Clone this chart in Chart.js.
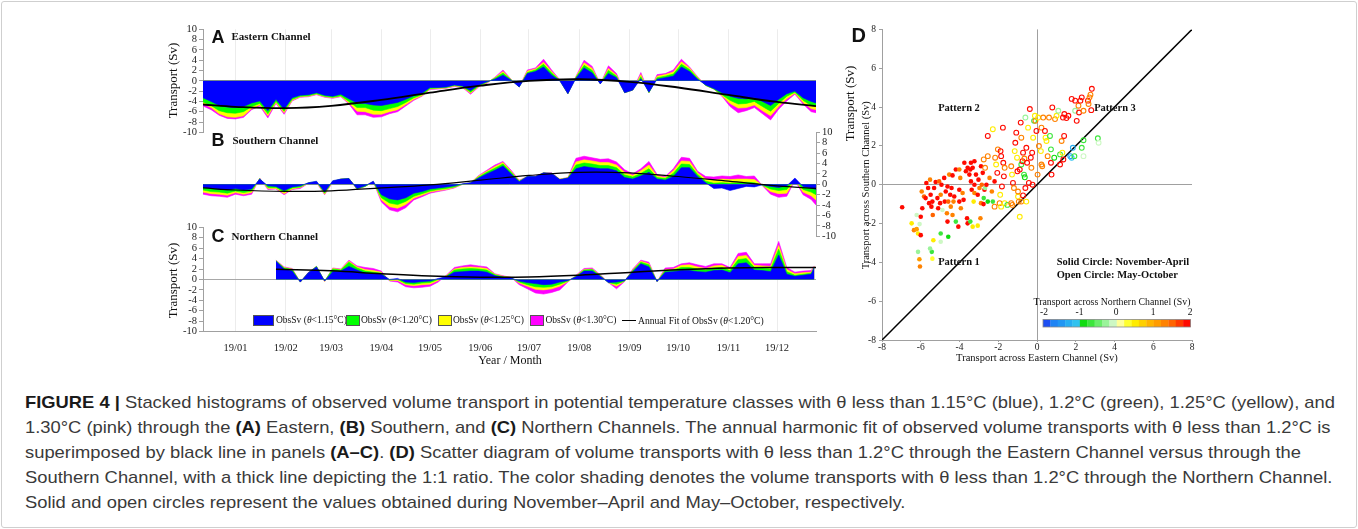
<!DOCTYPE html>
<html><head><meta charset="utf-8">
<script src="https://cdn.jsdelivr.net/npm/chart.js@4.4.0/dist/chart.umd.min.js"></script>
<style>
html,body{margin:0;padding:0;background:#fff;}
body{width:1358px;height:529px;position:relative;overflow:hidden;font-family:"Liberation Serif","DejaVu Serif",serif;color:#111;}
#frame{position:absolute;left:1px;top:1px;width:1354px;height:525px;border:1px solid #cfcfcf;border-radius:3px;}
canvas{position:absolute;}
.t{position:absolute;white-space:nowrap;line-height:1;}
.cap{position:absolute;left:25px;white-space:nowrap;font-family:"Liberation Sans","Arial",sans-serif;font-size:17px;color:#3a3a3a;line-height:1;transform-origin:0 50%;}
.cap b{color:#1a1a1a;}
.lg{position:absolute;top:314.5px;height:11px;border:1px solid #555;box-sizing:border-box;}
</style></head>
<body>
<div id="frame"></div>
<canvas id="cA" width="860" height="145" style="left:0;top:0"></canvas>
<canvas id="cB" width="860" height="130" style="left:0;top:120px"></canvas>
<canvas id="cC" width="860" height="160" style="left:0;top:215px"></canvas>
<canvas id="cD" width="380" height="372" style="left:840px;top:0"></canvas>
<div id="txt"></div>
<script>
// ---------- DATA ----------
const monthDays   = [0,31,59,90,120,151,181,212,243,273,304,334];
const monthLabels = ['19/01','19/02','19/03','19/04','19/05','19/06','19/07','19/08','19/09','19/10','19/11','19/12'];
const yTicks = [-10,-8,-6,-4,-2,0,2,4,6,8,10];

// day of 2019 (0 = 1 Jan)
const daysAB = [-20,-15,-10,-5,0,5,10,15,20,25,30,35,40,45,50,55,60,65,70,75,80,85,90,95,100,105,110,115,120,125,130,135,140,145,150,155,160,165,170,175,180,185,190,195,200,205,210,215,220,225,230,235,240,245,250,255,260,265,270,275,280,285,290,295,300,305,310,315,320,325,330,335,340,345,350,355,358];
const daysC  = [25,30,35,40,45,50,55,60,65,70,75,80,85,90,95,100,105,110,115,120,125,130,135,140,145,150,155,160,165,170,175,180,185,190,195,200,205,210,215,220,225,230,235,240,245,250,255,260,265,270,275,280,285,290,295,300,305,310,315,320,325,330,335,340,345,350,355,357];

// Eastern Channel, ObsSv (Sv) for theta < 1.15, 1.20, 1.25, 1.30 degC
const eastT115 = [-3.3,-4.0,-4.8,-5.1,-5.2,-5.0,-4.3,-3.9,-5.8,-3.6, -5.5,-3.3,-2.8,-2.7,-2.3,-2.8,-3.0,-2.6,-3.5,-4.3, -4.4,-4.7,-4.8,-4.5,-4.2,-3.6,-2.9,-2.4,-1.3,-1.3, -1.2,-0.8,-1.0,-1.9,-0.8,-0.2,0.3,1.1,0.1,-1.2, 1.4,1.8,2.7,1.1,0.0,-2.5,0.5,2.5,1.5,-0.6, 1.4,0.6,-2.3,-1.8,0.4,-2.2,0.3,0.6,0.9,2.7, 1.8,0.3,-0.8,-1.5,-2.3,-3.0,-3.4,-3.5,-3.3,-4.0, -4.8,-3.6,-2.5,-2.0,-3.3,-4.0,-4.3];
const eastT120 = [-4.1,-4.8,-5.8,-6.2,-6.3,-6.0,-5.0,-4.4,-6.4,-4.0, -5.9,-3.6,-3.0,-2.9,-2.5,-3.0,-3.2,-2.9,-4.0,-5.2, -5.2,-5.7,-5.8,-5.4,-5.0,-4.2,-3.3,-2.7,-1.5,-1.4, -1.3,-0.9,-1.1,-2.2,-1.0,-0.3,0.5,1.5,0.2,-1.2, 1.6,2.1,3.2,1.5,0.1,-2.5,0.7,3.0,2.0,-0.6, 2.0,0.9,-2.3,-1.8,0.8,-2.3,0.6,0.9,1.3,3.2, 2.2,0.5,-0.9,-1.6,-2.7,-3.8,-4.5,-4.4,-4.0,-5.0, -5.9,-4.4,-3.0,-2.2,-3.8,-4.8,-5.0];
const eastT125 = [-4.4,-5.2,-6.4,-7.0,-7.1,-6.8,-5.4,-4.7,-6.8,-4.2, -6.2,-3.8,-3.1,-3.0,-2.6,-3.1,-3.3,-3.0,-4.3,-5.9, -6.0,-6.5,-6.5,-6.0,-5.6,-4.6,-3.6,-2.9,-1.6,-1.5, -1.4,-1.0,-1.2,-2.4,-1.1,-0.4,0.6,1.8,0.25,-1.2, 1.9,2.3,3.6,1.8,0.1,-2.5,0.8,3.5,2.4,-0.6, 2.4,1.1,-2.3,-1.8,1.2,-2.3,0.9,1.2,1.7,3.7, 2.5,0.7,-0.9,-1.6,-2.9,-4.4,-5.3,-5.2,-4.7,-5.8, -6.8,-5.0,-3.5,-2.4,-4.2,-5.4,-5.6];
const eastT130 = [-4.9,-5.6,-6.7,-7.3,-7.4,-7.1,-5.6,-4.9,-7.2,-4.4, -6.5,-3.9,-3.2,-3.1,-2.7,-3.2,-3.4,-3.1,-4.5,-6.6, -6.6,-7.1,-7.0,-6.4,-6.0,-4.9,-3.8,-3.0,-1.7,-1.6, -1.45,-1.1,-1.3,-2.6,-1.2,-0.5,0.7,2.1,0.3,-1.2, 2.1,2.5,4.2,2.1,0.2,-2.5,0.9,4.0,2.8,-0.6, 2.9,1.4,-2.3,-1.8,1.6,-2.3,1.2,1.4,2.1,4.2, 2.7,0.8,-0.9,-1.6,-3.0,-5.0,-6.2,-5.8,-5.2,-6.4, -7.6,-5.5,-3.9,-2.6,-4.5,-6.0,-6.2];

// Southern Channel
const southT115 = [-0.6,-0.8,-0.9,-1.1,-0.8,-1.1,-0.9,1.0,-0.3,-0.4, -1.2,-0.5,-0.3,0.3,0.6,-1.5,0.7,1.0,1.1,-0.8, -0.3,0.6,-2.0,-2.8,-3.0,-2.6,-1.7,-1.4,-0.9,-0.7, -0.5,-0.3,0.1,0.3,1.2,2.0,2.7,3.5,2.0,0.5, 1.5,1.5,2.2,2.1,0.9,1.2,3.0,3.4,3.2,3.0, 3.0,2.6,1.3,1.0,1.6,2.3,1.0,0.8,1.5,3.2, 3.2,1.5,0.3,-0.8,-0.7,-1.2,-0.8,-0.4,-0.5,-0.1, -0.4,-0.6,-0.3,1.2,-0.4,-0.7,-1.0];
const southT120 = [-1.1,-1.4,-1.5,-1.7,-1.3,-1.6,-1.3,1.1,-0.6,-0.6, -1.5,-0.7,-0.5,0.3,0.5,-1.7,0.6,1.0,1.1,-0.9, -0.4,0.5,-2.6,-3.6,-3.9,-3.3,-2.3,-1.8,-1.3,-1.0, -0.8,-0.5,0.0,0.3,1.4,2.3,3.1,3.9,2.3,0.6, 1.5,1.5,2.2,2.1,0.9,1.2,3.7,4.1,3.9,3.6, 3.6,3.2,1.8,1.4,2.1,3.0,1.3,1.1,2.1,3.9, 3.8,1.9,0.6,0.2,0.3,0.2,0.3,0.4,0.3,-0.2, -0.9,-1.2,-1.0,1.0,-1.0,-1.5,-2.0];
const southT125 = [-1.5,-1.8,-1.9,-2.1,-1.6,-1.9,-1.6,1.1,-0.8,-0.8, -1.8,-0.9,-0.6,0.2,0.4,-1.9,0.5,1.0,1.1,-0.9, -0.4,0.5,-3.0,-4.3,-4.6,-3.9,-2.7,-2.1,-1.5,-1.2, -1.0,-0.6,0.0,0.3,1.6,2.5,3.4,4.2,2.5,0.7, 1.5,1.5,2.2,2.1,1.0,1.3,4.3,4.7,4.5,4.2, 4.2,3.7,2.3,1.7,2.6,3.7,1.6,1.3,2.6,4.5, 4.4,2.2,1.0,0.8,1.0,0.9,1.0,1.0,0.9,-0.2, -1.4,-1.8,-1.7,0.9,-1.5,-2.2,-3.0];
const southT130 = [-1.9,-2.2,-2.3,-2.5,-1.9,-2.2,-1.9,1.2,-1.0,-0.9, -2.0,-1.0,-0.8,0.2,0.3,-2.0,0.4,1.0,1.1,-1.0, -0.4,0.5,-3.4,-4.9,-5.3,-4.5,-3.0,-2.4,-1.7,-1.4, -1.1,-0.7,0.0,0.3,1.7,2.7,3.7,4.4,2.7,0.8, 1.5,1.6,2.2,2.2,1.0,1.3,5.0,5.4,5.1,4.8, 4.9,4.3,2.8,2.0,3.0,4.4,1.9,1.5,3.0,5.2, 5.0,2.5,1.5,1.4,1.6,1.5,1.8,1.5,1.6,-0.3, -1.9,-2.5,-2.3,0.8,-2.0,-2.9,-4.0];

// Northern Channel (record starts late January)
const northT115 = [3.5,2.0,1.6,-0.5,1.3,2.4,-0.3,1.5,1.6,2.5, 1.8,1.2,1.1,1.0,0.0,0.2,-0.5,-0.6,-0.4,-0.3, 0.2,0.5,1.4,1.5,1.6,1.6,1.4,0.7,0.4,0.3, -0.3,-0.6,-0.8,-1.0,-0.9,-0.5,-0.2,0.5,1.6,1.6, 0.6,-0.6,-0.5,-0.2,1.5,3.0,2.4,-0.4,1.4,1.5, 1.7,1.7,1.5,1.4,1.7,1.8,1.3,3.0,3.2,1.8, 1.7,1.5,4.7,1.0,0.6,0.8,1.0,2.3];
const northT120 = [3.6,2.2,1.9,-0.5,1.3,2.5,-0.3,2.0,1.8,3.3, 2.2,1.6,1.4,1.2,-0.1,0.0,-0.8,-0.9,-0.7,-0.6, 0.0,0.6,1.8,2.0,2.1,2.0,1.8,0.9,0.5,0.3, -0.5,-1.0,-1.4,-1.5,-1.4,-0.9,-0.3,0.6,1.8,1.9, 0.7,-0.6,-0.9,-0.3,1.7,3.3,2.8,-0.4,1.7,1.8, 2.3,2.3,2.0,1.8,2.2,2.3,1.7,3.8,4.0,2.3, 2.2,2.0,5.8,1.5,0.8,1.0,1.2,2.4];
const northT125 = [3.6,2.3,2.0,-0.5,1.3,2.5,-0.4,2.1,1.9,3.5, 2.4,1.9,1.7,1.4,-0.2,-0.2,-1.0,-1.2,-1.0,-0.9, -0.2,0.7,2.0,2.3,2.4,2.3,2.1,1.0,0.6,0.4, -0.7,-1.3,-1.9,-2.0,-1.8,-1.3,-0.4,0.7,1.9,2.0, 0.8,-0.6,-1.3,-0.3,1.8,3.5,3.0,-0.4,1.9,2.0, 2.7,2.8,2.4,2.1,2.6,2.7,2.0,4.4,4.6,2.7, 2.6,2.5,6.5,1.9,1.1,1.3,1.4,2.5];
const northT130 = [3.7,2.4,2.1,-0.5,1.4,2.5,-0.4,2.2,2.0,3.7, 2.6,2.3,2.1,1.6,-0.3,-0.5,-1.4,-1.6,-1.5,-1.3, -0.5,0.8,2.3,2.6,2.8,2.6,2.4,1.1,0.7,0.4, -1.0,-1.8,-2.6,-2.8,-2.5,-2.0,-0.5,0.8,2.1,2.2, 0.9,-0.6,-1.8,-0.4,2.0,3.7,3.3,-0.4,2.2,2.3, 3.0,3.2,2.8,2.5,3.0,3.0,2.3,5.0,5.2,3.0, 3.0,3.0,7.3,2.3,1.4,1.6,1.7,2.6];

// Annual harmonic fits of ObsSv (theta < 1.20)
const fitDaysAB = [-20,0,31,59,90,120,151,181,212,243,273,304,334,358];
const eastFit   = [-4.6,-5.05,-5.3,-4.85,-3.7,-2.3,-0.95,0.0,0.3,-0.2,-1.3,-2.75,-4.1,-4.9];
const southFit  = [-0.7,-1.1,-1.35,-1.25,-0.7,-0.1,0.8,1.7,2.3,2.2,1.5,0.6,-0.3,-0.8];
const fitDaysC  = [25,59,90,120,151,181,212,243,273,304,334,358];
const northFit  = [1.95,1.65,1.1,0.65,0.42,0.45,0.8,1.35,1.85,2.2,2.3,2.3];

// Scatter (panel D): Eastern (x), Southern (y), Northern (colour)
const solidE = [-6.96,-6.47,-6.35,-6.21,-6.14,-6.21,-6.06,-6.14,-6.07,-6.04,-6.0,-6.0,-5.92,-5.95,-5.83,-5.71,-5.75,-5.62,-5.57,-5.52,-5.49,-5.45,-5.4,-5.38,-5.43,-5.52,-5.4,-5.35,-5.31,-5.23,-5.14,-5.1,-5.05,-5.0,-4.97,-4.93,-4.88,-4.79,-4.76,-4.71,-4.65,-4.62,-4.58,-4.62,-4.53,-4.48,-4.45,-4.41,-4.36,-4.97,-4.97,-4.58,-4.36,-4.31,-4.27,-4.19,-4.06,-4.01,-4.01,-4.19,-4.01,-3.96,-3.93,-3.84,-3.79,-3.67,-3.61,-3.58,-3.44,-3.49,-3.44,-3.41,-3.37,-3.32,-3.27,-3.23,-3.23,-3.15,-3.06,-3.06,-3.02,-2.97,-2.89,-2.92,-2.85,-2.8,-2.89,-2.76,-2.75,-2.71,-2.68,-2.61,-2.54,-2.45,-2.33,-2.28,-2.19,-3.41,-3.32,-3.58,-3.75,-3.23];
const solidS = [-1.16,-1.99,-2.34,-2.29,-2.51,-1.56,-2.03,-3.46,-3.84,-4.21,-2.6,-1.65,-1.21,-0.35,-0.61,0.09,-0.69,-0.17,-0.95,0.26,-0.52,-1.13,-0.87,-1.56,-3.46,-3.29,-3.81,-2.86,-0.17,0.14,-0.69,-1.21,0.17,-0.95,-0.52,0.0,-1.3,0.35,-0.87,-0.35,-1.47,-1.9,-0.87,-0.09,0.52,-0.52,-1.13,-0.17,-1.56,-2.51,-2.94,-2.68,0.48,-0.87,-0.61,-1.9,-2.16,-0.87,-0.26,0.78,0.78,0.35,-1.21,-0.43,-0.78,0.69,-1.73,-1.99,-1.9,0.52,0.78,0.17,-0.26,-2.16,-0.87,-0.43,0.0,0.52,-2.11,-0.52,0.26,-0.17,-0.95,-1.73,0.0,0.61,0.95,-1.0,-0.69,-0.26,-0.17,0.0,-0.87,0.35,-0.35,-0.87,0.17,1.13,0.87,0.87,1.13,1.21];
const solidN = [1.9,0.5,1.3,1.1,0.5,-0.2,-0.1,-0.4,1.1,1.2,1.9,1.8,1.9,1.3,1.4,1.9,1.8,1.9,2.0,1.3,1.9,1.8,1.9,1.4,-0.8,-0.4,0.2,0.4,1.9,1.8,1.9,2.0,1.4,1.9,1.3,1.9,-0.2,1.9,1.8,1.9,1.3,1.8,1.4,1.9,1.3,1.9,1.2,1.9,1.3,-0.8,-0.2,-0.9,1.9,1.3,1.9,-0.8,1.9,1.8,1.9,2.0,1.3,1.2,1.2,1.3,1.9,1.9,1.9,1.8,-0.8,1.9,1.9,1.9,1.8,0.5,0.5,1.3,1.9,1.9,0.4,1.9,1.9,1.3,1.3,1.2,1.4,1.9,1.9,1.8,-0.8,1.9,-0.4,1.9,-0.9,1.3,1.2,-0.8,1.9,1.9,1.9,2.0,1.9,1.9];
const openE = [-2.75,-2.68,-2.54,-2.28,-2.16,-2.11,-2.02,-1.88,-1.85,-1.76,-1.74,-1.67,-1.71,-1.81,-1.9,-1.93,-1.85,-1.67,-1.53,-2.19,-2.54,-2.05,-1.33,-1.29,-1.24,-1.27,-1.19,-1.15,-1.12,-1.07,-1.03,-1.01,-0.98,-0.94,-0.89,-0.84,-0.81,-0.81,-0.75,-0.72,-0.65,-0.67,-0.63,-0.6,-0.55,-0.51,-0.46,-0.42,-0.37,-0.32,-0.29,-0.25,-0.2,-0.15,-0.11,-0.08,-0.03,0.03,0.06,0.1,0.2,0.23,0.32,0.41,0.44,0.49,0.55,0.27,0.62,0.67,0.72,0.72,0.79,0.89,0.93,1.01,1.1,1.19,1.31,1.27,1.34,1.41,1.52,1.62,1.4,1.72,1.79,1.85,1.93,1.97,2.05,2.14,2.17,2.24,2.31,2.4,2.31,2.4,1.97,1.79,2.63,2.71,2.76,2.83,2.8,2.66,3.14,3.18,2.4,1.36,1.19,0.75,0.23,-0.23,-0.6,-0.72,-0.89,-0.81,-0.55,-1.33,-0.98];
const openS = [1.3,0.87,1.47,2.86,1.39,1.04,1.82,1.73,1.47,2.94,1.13,0.87,0.43,-0.09,-0.52,-0.95,-1.13,-0.95,-1.04,-1.13,2.51,0.61,0.95,0.52,0.09,-1.04,-0.17,1.73,2.16,2.68,1.39,0.69,-0.61,-0.87,0.78,3.2,2.42,1.04,1.21,1.65,1.35,0.52,0.38,3.46,1.9,1.13,2.94,0.09,3.9,1.39,0.87,1.65,2.42,3.29,3.55,3.29,2.77,0.52,3.46,1.99,1.73,2.94,3.46,2.77,2.42,2.25,1.47,0.95,3.46,2.51,1.82,1.13,3.98,1.39,3.38,3.55,3.81,1.56,1.65,2.25,3.46,3.64,3.43,3.55,2.51,1.47,1.39,1.9,1.47,3.81,3.29,4.07,3.72,4.33,4.5,3.81,1.9,1.47,4.33,4.42,4.33,4.5,4.64,4.94,3.84,4.16,2.39,2.16,2.29,1.3,1.04,0.52,1.04,0.0,-0.17,-0.55,-1.65,-0.87,-0.87,-0.95,-0.35];
const openN = [1.3,1.2,1.3,0.5,1.3,0.4,1.3,1.9,1.9,1.9,1.9,1.3,1.9,1.8,0.5,1.2,0.4,0.5,-0.8,1.2,1.9,1.9,1.3,0.4,1.9,1.3,1.2,0.4,1.9,1.9,0.5,1.9,0.5,1.2,1.9,1.9,1.3,-0.8,1.9,1.9,1.3,-0.8,-0.9,-0.3,1.9,1.9,0.4,1.9,1.9,1.9,1.3,1.9,0.5,-0.8,0.5,1.3,1.9,1.3,0.5,1.2,0.4,1.3,1.2,1.9,0.5,0.4,1.3,1.2,1.3,-0.8,-0.8,1.9,1.9,-0.9,1.2,0.5,-0.3,-0.8,0.4,1.3,1.9,1.9,1.9,1.9,1.9,-1.5,-1.2,-1.3,-0.8,-0.3,1.9,1.3,1.9,1.9,1.9,1.2,-0.8,-0.2,1.9,1.9,1.9,1.3,1.2,1.9,1.9,1.3,-0.8,-0.2,-0.8,1.9,1.9,1.9,1.3,1.9,1.9,1.9,0.4,1.2,0.5,1.3,1.3];
const ratioLine = [-8, 8];
const dTicks = [-8,-6,-4,-2,0,2,4,6,8];
const cbarTicks = [-2,-1,0,1,2];
// colour map of the Northern Channel transport, 20 steps of 0.2 Sv from -2 to 2
const cmapColors = ['#1d4ff2','#1f84f4','#2196f3','#27aef2','#31c2ef','#10dc10','#3ce63c','#6aee6a','#9af39a','#cdf8c4','#ffff9a','#ffff30','#ffec00','#ffd000','#ffb400','#ff9c00','#ff8200','#ff6400','#ff3a00','#ff0a00'];

// ---------- HELPERS ----------
const SERIF = '"Liberation Serif","DejaVu Serif",serif';
const SANS = '"Liberation Sans","DejaVu Sans",sans-serif';
const cmap = v => cmapColors[Math.max(0, Math.min(19, Math.floor((v + 2) / 0.2 + 1e-9)))];
const pts = (xs, ys) => xs.map((x, i) => ({x: x, y: ys[i]}));

const BLUE = '#0000ff', GREEN = '#00ff00', YELLOW = '#ffff00', PINK = '#ff00ff';

function area(days, vals, color, order) {
  return {data: pts(days, vals), backgroundColor: color, borderColor: color, borderWidth: 0.6,
          pointRadius: 0, fill: 'origin', tension: 0, order: order};
}
function fitLine(days, vals, w) {
  return {data: pts(days, vals), borderColor: '#000', borderWidth: w, pointRadius: 0,
          fill: false, tension: 0.4, order: 0};
}
function seriesChart(id, opt) {
  const ctx = document.getElementById(id);
  return new Chart(ctx, {
    type: 'line',
    data: {datasets: [
      fitLine(opt.fitDays, opt.fit, opt.fitW),
      area(opt.days, opt.s115, BLUE, 1),
      area(opt.days, opt.s120, GREEN, 2),
      area(opt.days, opt.s125, YELLOW, 3),
      area(opt.days, opt.s130, PINK, 4)
    ]},
    options: {
      responsive: false, animation: false, events: [],
      layout: {padding: opt.pad},
      plugins: {legend: {display: false}, tooltip: {enabled: false}},
      scales: {
        x: {type: 'linear', min: -20, max: 358,
            afterBuildTicks: s => { s.ticks = monthDays.map(v => ({value: v})); },
            ticks: {display: opt.xLabels, autoSkip: false, maxRotation: 0, padding: 10,
                    font: {family: SERIF, size: 10.5}, color: '#222',
                    callback: (v, i) => monthLabels[i]},
            grid: {color: '#ececec', drawTicks: false, lineWidth: 1},
            border: {display: opt.xLabels, color: '#a0a0a0'},
            afterFit: s => { s.height = opt.xH; }},
        y: {min: -10, max: 10, position: opt.yPos,
            afterBuildTicks: s => { s.ticks = yTicks.map(v => ({value: v})); },
            ticks: {autoSkip: false, padding: 2, font: {family: SERIF, size: 10.5}, color: '#222'},
            grid: {color: c => (c.tick && c.tick.value === 0) ? '#a8a8a8' : 'rgba(0,0,0,0)',
                   tickColor: '#a0a0a0', tickLength: 4},
            border: {color: '#a0a0a0'},
            afterFit: s => { s.width = opt.yW; }}
      }
    }
  });
}

seriesChart('cA', {days: daysAB, s115: eastT115, s120: eastT120, s125: eastT125, s130: eastT130,
  fitDays: fitDaysAB, fit: eastFit, fitW: 1.8, xLabels: false, xH: 0, yPos: 'left', yW: 50,
  pad: {left: 153, right: 44, top: 29.3, bottom: 12.7}});
seriesChart('cB', {days: daysAB, s115: southT115, s120: southT120, s125: southT125, s130: southT130,
  fitDays: fitDaysAB, fit: southFit, fitW: 1.2, xLabels: false, xH: 0, yPos: 'right', yW: 40,
  pad: {left: 203, right: 4, top: 12.3, bottom: 13.7}});
seriesChart('cC', {days: daysC, s115: northT115, s120: northT120, s125: northT125, s130: northT130,
  fitDays: fitDaysC, fit: northFit, fitW: 1.5, xLabels: true, xH: 30, yPos: 'left', yW: 50,
  pad: {left: 153, right: 44, top: 12.3, bottom: 13.4}});

// ---------- PANEL D ----------
const colorbarPlugin = {
  id: 'cbar',
  afterDraw(chart) {
    const c = chart.ctx, x0 = 203, x1 = 350.5, y0 = 319.4, h = 7.6;
    const w = (x1 - x0) / cmapColors.length;
    cmapColors.forEach((col, i) => { c.fillStyle = col; c.fillRect(x0 + i * w, y0, w + 0.3, h); });
    c.strokeStyle = '#8a8a8a'; c.lineWidth = 0.8; c.strokeRect(x0, y0, x1 - x0, h);
  }
};
new Chart(document.getElementById('cD'), {
  type: 'scatter',
  data: {datasets: [
    {type: 'line', data: pts(ratioLine, ratioLine), borderColor: '#000', borderWidth: 1.5, pointRadius: 0, fill: false, order: 2},
    {data: pts(solidE, solidS), pointRadius: 2.3, pointBorderWidth: 0,
     pointBackgroundColor: c => cmap(solidN[c.dataIndex]), pointBorderColor: c => cmap(solidN[c.dataIndex]), order: 1},
    {data: pts(openE, openS), pointRadius: 2.4, pointBorderWidth: 1.1,
     pointBackgroundColor: 'rgba(0,0,0,0)', pointBorderColor: c => cmap(openN[c.dataIndex]), order: 0}
  ]},
  options: {
    responsive: false, animation: false, events: [],
    layout: {padding: {left: 12, right: 28, top: 29.4, bottom: 7}},
    plugins: {legend: {display: false}, tooltip: {enabled: false}},
    scales: {
      x: {type: 'linear', min: -8, max: 8,
          afterBuildTicks: s => { s.ticks = dTicks.map(v => ({value: v})); },
          ticks: {autoSkip: false, padding: 0, font: {family: SERIF, size: 9.5}, color: '#222'},
          grid: {color: c => (c.tick && c.tick.value === 0) ? '#a0a0a0' : 'rgba(0,0,0,0)', tickColor: '#a0a0a0', tickLength: 2},
          border: {color: '#a0a0a0'},
          afterFit: s => { s.height = 25; }},
      y: {type: 'linear', min: -8, max: 8,
          afterBuildTicks: s => { s.ticks = dTicks.map(v => ({value: v})); },
          ticks: {autoSkip: false, padding: 3, font: {family: SERIF, size: 9.5}, color: '#222'},
          grid: {color: c => (c.tick && c.tick.value === 0) ? '#a0a0a0' : 'rgba(0,0,0,0)', tickColor: '#a0a0a0', tickLength: 3},
          border: {color: '#a0a0a0'},
          afterFit: s => { s.width = 30; }}
    }
  },
  plugins: [colorbarPlugin]
});

// ---------- TEXT ----------
const T = document.getElementById('txt');
function txt(html, x, y, o) {
  o = o || {};
  const d = document.createElement('div');
  d.className = 't';
  d.innerHTML = html;
  const fs = o.size || 11;
  d.style.fontSize = fs + 'px';
  d.style.fontFamily = o.family || SERIF;
  if (o.bold) d.style.fontWeight = 'bold';
  if (o.color) d.style.color = o.color;
  d.style.top = (y - fs / 2) + 'px';
  d.style.left = x + 'px';
  let tr = '';
  if (o.anchor === 'middle') tr += 'translateX(-50%) ';
  if (o.anchor === 'end') tr += 'translateX(-100%) ';
  if (o.rotate) { tr = 'translate(-50%,0) rotate(-90deg)'; d.style.transformOrigin = '50% 50%'; }
  d.style.transform = tr;
  T.appendChild(d);
  return d;
}
// panel labels
txt('A', 211.5, 37, {size: 18, bold: true, family: SANS});
txt('Eastern Channel', 231.5, 36.3, {size: 11, bold: true});
txt('B', 211.5, 139.5, {size: 18, bold: true, family: SANS});
txt('Southern Channel', 232.5, 140.5, {size: 11, bold: true});
txt('C', 211.5, 236, {size: 18, bold: true, family: SANS});
txt('Northern Channel', 231.5, 236, {size: 11, bold: true});
txt('D', 851.5, 34.5, {size: 20, bold: true, family: SANS});
// axis titles
txt('Transport (Sv)', 172, 80.5, {size: 13, rotate: true});
txt('Transport (Sv)', 172, 280, {size: 13, rotate: true});
txt('Year / Month', 510, 360, {size: 12, anchor: 'middle'});
txt('Transport (Sv)', 849, 103, {size: 13, rotate: true});
txt('Transport across Southern Channel (Sv)', 865.5, 185, {size: 10.5, rotate: true});
txt('Transport across Eastern Channel (Sv)', 1037, 358.5, {size: 10.5, anchor: 'middle'});
// panel D annotations
txt('Pattern 2', 959, 108, {size: 10.5, bold: true, anchor: 'middle'});
txt('Pattern 3', 1115, 108, {size: 10.5, bold: true, anchor: 'middle'});
txt('Pattern 1', 959, 262.5, {size: 10.5, bold: true, anchor: 'middle'});
txt('Solid Circle: November-April', 1056.7, 262.5, {size: 10.5, bold: true});
txt('Open Circle: May-October', 1056.7, 275.3, {size: 10.5, bold: true});
txt('Transport across Northern Channel (Sv)', 1112, 301.8, {size: 9.8, anchor: 'middle'});
const cbX = [1044, 1079.5, 1116, 1153, 1190];
cbarTicks.forEach((v, i) => txt(String(v), cbX[i], 312.8, {size: 9.5, anchor: 'middle'}));

// legend of panel C
const legendItems = [
  {c: BLUE,   x: 253, w: 21, t: 'ObsSv (<i>θ</i>&lt;1.15°C)', tx: 276},
  {c: GREEN,  x: 345.5, w: 14, t: 'ObsSv (<i>θ</i>&lt;1.20°C)', tx: 361},
  {c: YELLOW, x: 437.5, w: 14, t: 'ObsSv (<i>θ</i>&lt;1.25°C)', tx: 453},
  {c: PINK,   x: 530, w: 14, t: 'ObsSv (<i>θ</i>&lt;1.30°C)', tx: 545.5}
];
legendItems.forEach(it => {
  const b = document.createElement('div');
  b.className = 'lg'; b.style.left = it.x + 'px'; b.style.width = it.w + 'px'; b.style.background = it.c;
  T.appendChild(b);
  txt(it.t, it.tx, 320.3, {size: 9.5});
});
const ln = document.createElement('div');
ln.style.cssText = 'position:absolute;left:622px;top:319.5px;width:14px;height:1.4px;background:#000;';
T.appendChild(ln);
txt('Annual Fit of ObsSv (<i>θ</i>&lt;1.20°C)', 638, 320.3, {size: 9.6});

// caption
const capLines = [
  '<b>FIGURE 4 |</b> Stacked histograms of observed volume transport in potential temperature classes with θ less than 1.15°C (blue), 1.2°C (green), 1.25°C (yellow), and',
  '1.30°C (pink) through the <b>(A)</b> Eastern, <b>(B)</b> Southern, and <b>(C)</b> Northern Channels. The annual harmonic fit of observed volume transports with θ less than 1.2°C is',
  'superimposed by black line in panels <b>(A–C)</b>. <b>(D)</b> Scatter diagram of volume transports with θ less than 1.2°C through the Eastern Channel versus through the',
  'Southern Channel, with a thick line depicting the 1:1 ratio. The color shading denotes the volume transports with θ less than 1.2°C through the Northern Channel.',
  'Solid and open circles represent the values obtained during November–April and May–October, respectively.'
];
const capY = [402, 427, 452, 477, 502];
const capEls = capLines.map((l, i) => {
  const d = document.createElement('div');
  d.className = 'cap'; d.innerHTML = l;
  d.style.top = (capY[i] - 8.5) + 'px';
  T.appendChild(d);
  return d;
});
function fitCaption() {
  capEls.forEach(d => { d.style.transform = 'none'; });
  const w0 = capEls[0].getBoundingClientRect().width;
  if (w0 > 0) {
    const s = 1310 / w0;
    capEls.forEach(d => { d.style.transform = 'scaleX(' + s + ')'; });
  }
}
fitCaption();
if (document.fonts && document.fonts.ready) document.fonts.ready.then(fitCaption);
</script>
</body></html>
